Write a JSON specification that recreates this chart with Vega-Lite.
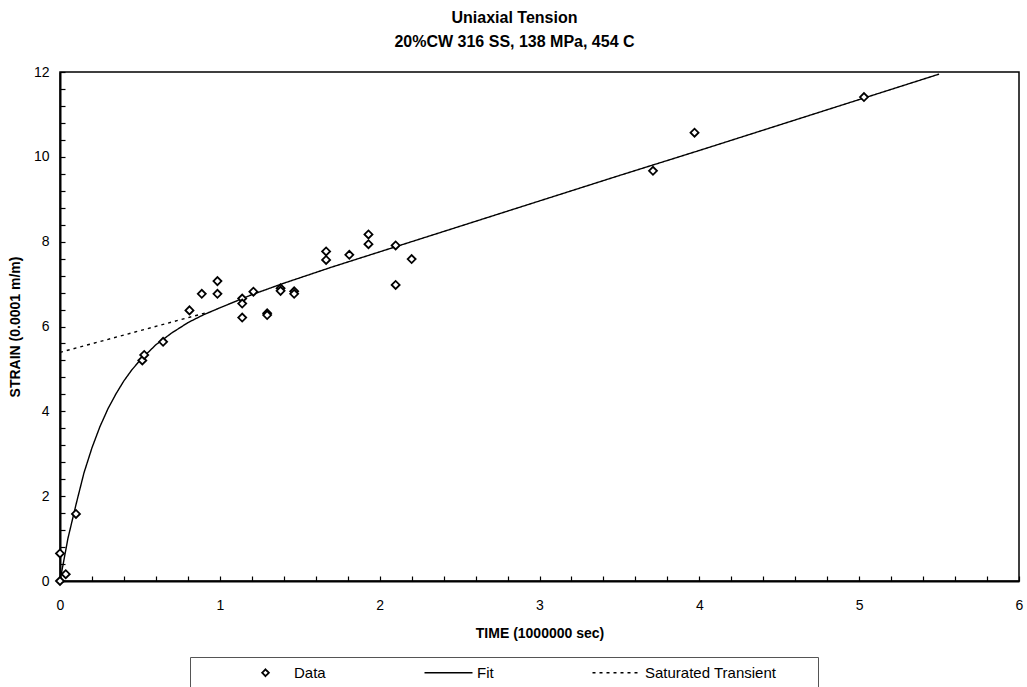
{
  "$schema": "https://vega.github.io/schema/vega-lite/v6.json",
  "autosize": {"type": "none"},
  "width": 959,
  "height": 509,
  "padding": {"left": 60, "top": 72, "right": 8, "bottom": 106},
  "background": "white",
  "title": {
    "text": ["Uniaxial Tension", "20%CW 316 SS, 138 MPa, 454 C"],
    "anchor": "middle",
    "frame": "group",
    "dx": -25,
    "offset": 15,
    "fontSize": 16,
    "fontWeight": "bold",
    "lineHeight": 24,
    "font": "Liberation Sans",
    "color": "black"
  },
  "config": {
    "view": {"stroke": "black", "strokeWidth": 1.5},
    "font": "Liberation Sans",
    "axis": {
      "grid": false,
      "domainColor": "black",
      "domainWidth": 2,
      "tickColor": "black",
      "tickWidth": 1.2,
      "tickSize": -5,
      "labelColor": "black",
      "labelFontSize": 14,
      "labelFlush": false,
      "labelOverlap": false,
      "titleColor": "black",
      "titleFontSize": 14,
      "titleFontWeight": "bold"
    }
  },
  "data": {
    "values": [
      {"t": 0, "strain": 0.0, "series": "Data"},
      {"t": 0, "strain": 0.65, "series": "Data"},
      {"t": 0.036, "strain": 0.16, "series": "Data"},
      {"t": 0.10, "strain": 1.58, "series": "Data"},
      {"t": 0.515, "strain": 5.2, "series": "Data"},
      {"t": 0.527, "strain": 5.33, "series": "Data"},
      {"t": 0.645, "strain": 5.64, "series": "Data"},
      {"t": 0.81, "strain": 6.38, "series": "Data"},
      {"t": 0.887, "strain": 6.77, "series": "Data"},
      {"t": 0.985, "strain": 6.77, "series": "Data"},
      {"t": 0.985, "strain": 7.07, "series": "Data"},
      {"t": 1.14, "strain": 6.66, "series": "Data"},
      {"t": 1.14, "strain": 6.54, "series": "Data"},
      {"t": 1.14, "strain": 6.21, "series": "Data"},
      {"t": 1.21, "strain": 6.82, "series": "Data"},
      {"t": 1.296, "strain": 6.31, "series": "Data"},
      {"t": 1.296, "strain": 6.27, "series": "Data"},
      {"t": 1.38, "strain": 6.9, "series": "Data"},
      {"t": 1.38, "strain": 6.84, "series": "Data"},
      {"t": 1.465, "strain": 6.83, "series": "Data"},
      {"t": 1.465, "strain": 6.77, "series": "Data"},
      {"t": 1.665, "strain": 7.77, "series": "Data"},
      {"t": 1.665, "strain": 7.57, "series": "Data"},
      {"t": 1.81, "strain": 7.69, "series": "Data"},
      {"t": 1.93, "strain": 8.17, "series": "Data"},
      {"t": 1.93, "strain": 7.94, "series": "Data"},
      {"t": 2.10, "strain": 7.91, "series": "Data"},
      {"t": 2.10, "strain": 6.98, "series": "Data"},
      {"t": 2.20, "strain": 7.59, "series": "Data"},
      {"t": 3.71, "strain": 9.67, "series": "Data"},
      {"t": 3.97, "strain": 10.57, "series": "Data"},
      {"t": 5.03, "strain": 11.41, "series": "Data"},
      {"t": 0, "strain": 0, "series": "Fit"},
      {"t": 0.05, "strain": 1.01, "series": "Fit"},
      {"t": 0.1, "strain": 1.8, "series": "Fit"},
      {"t": 0.15, "strain": 2.55, "series": "Fit"},
      {"t": 0.2, "strain": 3.14, "series": "Fit"},
      {"t": 0.25, "strain": 3.64, "series": "Fit"},
      {"t": 0.3, "strain": 4.06, "series": "Fit"},
      {"t": 0.35, "strain": 4.41, "series": "Fit"},
      {"t": 0.4, "strain": 4.72, "series": "Fit"},
      {"t": 0.45, "strain": 4.98, "series": "Fit"},
      {"t": 0.5, "strain": 5.2, "series": "Fit"},
      {"t": 0.6, "strain": 5.57, "series": "Fit"},
      {"t": 0.7, "strain": 5.85, "series": "Fit"},
      {"t": 0.8, "strain": 6.09, "series": "Fit"},
      {"t": 0.9, "strain": 6.28, "series": "Fit"},
      {"t": 1.0, "strain": 6.44, "series": "Fit"},
      {"t": 1.2, "strain": 6.75, "series": "Fit"},
      {"t": 1.4, "strain": 7.02, "series": "Fit"},
      {"t": 1.7, "strain": 7.4, "series": "Fit"},
      {"t": 2.0, "strain": 7.76, "series": "Fit"},
      {"t": 2.5, "strain": 8.36, "series": "Fit"},
      {"t": 3.0, "strain": 8.96, "series": "Fit"},
      {"t": 3.5, "strain": 9.56, "series": "Fit"},
      {"t": 4.0, "strain": 10.15, "series": "Fit"},
      {"t": 4.5, "strain": 10.75, "series": "Fit"},
      {"t": 5.0, "strain": 11.35, "series": "Fit"},
      {"t": 5.5, "strain": 11.95, "series": "Fit"},
      {"t": 0, "strain": 5.39, "series": "Saturated Transient"},
      {"t": 0.92, "strain": 6.33, "series": "Saturated Transient"}
    ]
  },
  "encoding": {
    "x": {
      "field": "t", "type": "quantitative",
      "scale": {"domain": [0, 6], "nice": false, "zero": false},
      "axis": {
        "title": "TIME (1000000 sec)",
        "values": [0,0.2,0.4,0.6,0.8,1,1.2,1.4,1.6,1.8,2,2.2,2.4,2.6,2.8,3,3.2,3.4,3.6,3.8,4,4.2,4.4,4.6,4.8,5,5.2,5.4,5.6,5.8,6],
        "labelExpr": "abs(datum.value - round(datum.value)) < 0.001 ? format(datum.value, 'd') : ''",
        "labelPadding": 22,
        "titlePadding": 14
      }
    },
    "y": {
      "field": "strain", "type": "quantitative",
      "scale": {"domain": [0, 12], "nice": false, "zero": false},
      "axis": {
        "title": "STRAIN (0.0001 m/m)",
        "values": [0,0.4,0.8,1.2,1.6,2,2.4,2.8,3.2,3.6,4,4.4,4.8,5.2,5.6,6,6.4,6.8,7.2,7.6,8,8.4,8.8,9.2,9.6,10,10.4,10.8,11.2,11.6,12],
        "labelExpr": "abs(datum.value / 2 - round(datum.value / 2)) < 0.001 ? format(datum.value, 'd') : ''",
        "labelPadding": 16,
        "titlePadding": 11
      }
    }
  },
  "layer": [
    {
      "transform": [{"filter": "datum.series !== 'Data'"}],
      "mark": {"type": "line", "color": "black", "strokeWidth": 1.4},
      "encoding": {
        "strokeDash": {
          "field": "series", "type": "nominal",
          "scale": {"domain": ["Data", "Fit", "Saturated Transient"], "range": [[1, 0], [1, 0], [3, 4]]},
          "legend": {
            "orient": "none",
            "legendX": 130,
            "legendY": 585,
            "direction": "horizontal",
            "title": "\u2800\u2800\u2800\u2800",
            "titleOrient": "left",
            "titlePadding": 2,
            "titleFontSize": 13,
            "titleFontWeight": "normal",
            "padding": 8,
            "columnPadding": 95,
            "symbolOffset": 18,
            "labelOffset": 21,
            "labelFontSize": 15,
            "labelLimit": 400,
            "labelColor": "black",
            "labelExpr": "datum.label === 'Saturated Transient' ? datum.label + '\u2800\u2800\u2800' : datum.label",
            "strokeColor": "#555555",
            "fillColor": "white",
            "symbolSize": 2304,
            "symbolType": "stroke",
            "symbolStrokeColor": "black",
            "symbolStrokeWidth": 1.3,
            "encode": {
              "symbols": {
                "update": {
                  "shape": {"signal": "datum.value === 'Data' ? 'diamond' : 'stroke'"},
                  "size": {"signal": "datum.value === 'Data' ? 45 : 2304"},
                  "fill": {"signal": "datum.value === 'Data' ? 'white' : 'transparent'"},
                  "stroke": {"value": "black"},
                  "strokeWidth": {"signal": "datum.value === 'Data' ? 1.8 : 1.3"}
                }
              }
            }
          }
        }
      }
    },
    {
      "transform": [{"filter": "datum.series === 'Data'"}],
      "mark": {"type": "point", "shape": "diamond", "filled": true, "fill": "white", "stroke": "black", "strokeWidth": 1.8, "size": 64, "opacity": 1}
    }
  ]
}
